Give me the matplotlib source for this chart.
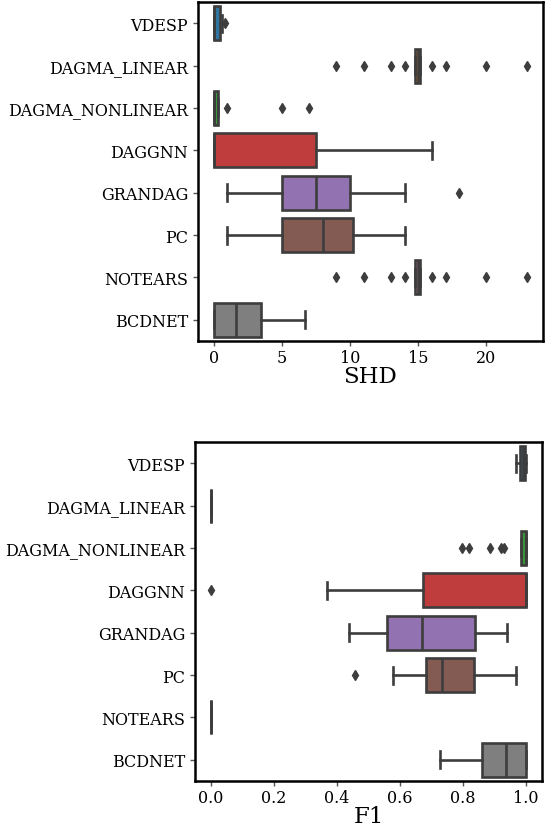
import colorsys
import matplotlib
matplotlib.use("Agg")
import matplotlib.pyplot as plt
import matplotlib.colors as mcolors

methods = ["VDESP", "DAGMA_LINEAR", "DAGMA_NONLINEAR", "DAGGNN",
           "GRANDAG", "PC", "NOTEARS", "BCDNET"]

# SHD summary statistics
shd_whislo = [0.0, 14.75, 0.0, 0.0, 1.0, 1.0, 14.75, 0.0]
shd_q1     = [0.0, 14.75, 0.0, 0.0, 5.0, 5.0, 14.75, 0.0]
shd_med    = [0.0, 15.0, 0.0, 0.0, 7.5, 8.0, 15.0, 1.6]
shd_q3     = [0.45, 15.1, 0.3, 7.5, 10.0, 10.25, 15.1, 3.45]
shd_whishi = [0.6, 15.1, 0.3, 16.0, 14.0, 14.0, 15.1, 6.7]
shd_fliers = [[0.85], [9, 11, 13, 14, 16, 17, 20, 23], [1, 5, 7], [],
              [18], [], [9, 11, 13, 14, 16, 17, 20, 23], []]

# F1 summary statistics
f1_whislo = [0.967, 0.0, 0.985, 0.37, 0.437, 0.577, 0.0, 0.727]
f1_q1     = [0.981, 0.0, 0.985, 0.674, 0.56, 0.683, 0.0, 0.861]
f1_med    = [0.99, 0.0, 1.0, 1.0, 0.67, 0.734, 0.0, 0.935]
f1_q3     = [0.997, 0.0, 1.0, 1.0, 0.839, 0.835, 0.0, 1.0]
f1_whishi = [1.0, 0.0, 1.0, 1.0, 0.94, 0.967, 0.0, 1.0]
f1_fliers = [[], [], [0.796, 0.819, 0.886, 0.921, 0.931], [0.0],
             [], [0.457], [], []]

W, H = 546, 829
fig = plt.figure(figsize=(W / 100, H / 100), dpi=100)
plt.rcParams["font.family"] = ["DejaVu Serif"]


def desat(c, p=0.75):
    r, g, b = mcolors.to_rgb(c)
    h, l, s = colorsys.rgb_to_hls(r, g, b)
    return colorsys.hls_to_rgb(h, l, s * p)


palette = [desat(plt.get_cmap("tab10")(i)) for i in range(8)]
lum = min(colorsys.rgb_to_hls(*c)[1] for c in palette) * 0.6
gray = (lum, lum, lum)
LW = 1.9


def draw(ax, wlo, q1, med, q3, whi, fl, xlabel, ticks):
    stats = []
    for i in range(len(methods)):
        stats.append(dict(whislo=wlo[i], q1=q1[i], med=med[i], q3=q3[i],
                          whishi=whi[i], fliers=fl[i], label=methods[i]))
    res = ax.bxp(stats, positions=range(len(methods)), widths=0.8,
                 orientation="horizontal", patch_artist=True,
                 boxprops=dict(edgecolor=gray, linewidth=LW),
                 whiskerprops=dict(color=gray, linewidth=LW),
                 capprops=dict(color=gray, linewidth=LW),
                 medianprops=dict(color=gray, linewidth=LW),
                 flierprops=dict(marker="d", markerfacecolor=gray,
                                 markeredgecolor=gray, markersize=5.5))
    for patch, c in zip(res["boxes"], palette):
        patch.set_facecolor(c)
    ax.set_ylim(len(methods) - 0.5, -0.5)
    ax.set_yticks(range(len(methods)))
    ax.set_yticklabels(methods, fontsize=11.5)
    ax.set_xticks(ticks)
    ax.tick_params(axis="both", labelsize=11.5, length=3.5, width=1,
                   color="#555555")
    ax.tick_params(axis="x", pad=2.5)
    ax.set_xlabel(xlabel, fontsize=16.5, labelpad=-1)
    for s in ax.spines.values():
        s.set_linewidth(1.8)
        s.set_color("black")


ax1 = fig.add_axes([198 / W, 1 - 342 / H, (543 - 198) / W, (342 - 3) / H])
draw(ax1, shd_whislo, shd_q1, shd_med, shd_q3, shd_whishi, shd_fliers,
     "SHD", [0, 5, 10, 15, 20])
ax1.set_xlim(-1.15, 23 + 1.15)

ax2 = fig.add_axes([195 / W, 1 - 782 / H, (542 - 195) / W, (782 - 443) / H])
draw(ax2, f1_whislo, f1_q1, f1_med, f1_q3, f1_whishi, f1_fliers,
     "F1", [0.0, 0.2, 0.4, 0.6, 0.8, 1.0])
ax2.set_xlim(-0.05, 1.05)

fig.savefig("out.png", dpi=100)
